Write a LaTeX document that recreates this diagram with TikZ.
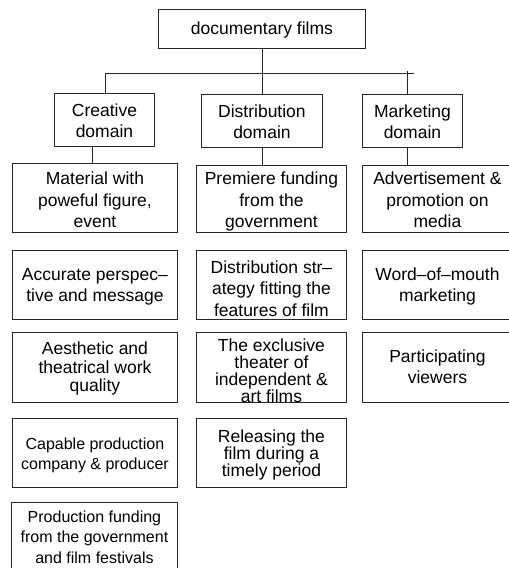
\documentclass[tikz,border=0pt]{standalone}
\usepackage{fontspec}
\setmainfont{Liberation Sans}
\newcommand\boxtext[2][0pt]{\raisebox{#1}[\height][\depth]{\begin{tabular}{@{}c@{}}#2\end{tabular}}}
\begin{document}
\begin{tikzpicture}[x=1pt,y=-1pt,
  box/.style={draw=black!85,line width=0.9pt,inner sep=0pt,anchor=north west,
    font=\fontsize{17.5}{21.5}\selectfont},
  cw/.style={minimum width=165pt},
  dw/.style={minimum width=150pt},
  mw/.style={minimum width=150pt},
  rh/.style={minimum height=69pt},
  link/.style={draw=black!85,line width=0.9pt}]
\useasboundingbox (0,0) rectangle (509,568);
\clip (0,0) rectangle (509,568);
% top
\node[box,minimum width=207pt,minimum height=39pt] (top) at (158,9) {\boxtext[-1pt]{documentary films}};
% domains
\node[box,minimum width=100pt,minimum height=53pt,font=\fontsize{17.5}{21}\selectfont] (crea) at (54,93) {\boxtext[-2.5pt]{Creative\\domain}};
\node[box,minimum width=121pt,minimum height=53pt,font=\fontsize{17.5}{21}\selectfont] (dist) at (201,94) {\boxtext[-2.5pt]{Distribution\\domain}};
\node[box,minimum width=100pt,minimum height=53pt,font=\fontsize{17.5}{21}\selectfont] (mark) at (362,94) {\boxtext[-2.5pt]{Marketing\\domain}};
% creative column
\node[box,cw,rh] (c1) at (12,163) {\boxtext[-4pt]{Material with\\poweful figure,\\event}};
\node[box,cw,rh] (c2) at (12,250) {\boxtext[-1.7pt]{Accurate perspec–\\tive and message}};
\node[box,cw,minimum height=70pt,font=\fontsize{17.5}{18.5}\selectfont] (c3) at (12,332) {\boxtext[-2pt]{Aesthetic and\\theatrical work\\quality}};
\node[box,cw,rh,font=\fontsize{16}{20}\selectfont] (c4) at (12,418) {\boxtext[-3pt]{Capable production\\company \& producer}};
\node[box,minimum width=166pt,minimum height=70pt,font=\fontsize{16}{20.5}\selectfont] (c5) at (11,502) {\boxtext[-1pt]{Production funding\\from the government\\and film festivals}};
% distribution column
\node[box,dw,minimum height=67pt] (d1) at (196,165) {\boxtext[-3.2pt]{Premiere funding\\from the\\government}};
\node[box,dw,rh,font=\fontsize{17.5}{21.7}\selectfont] (d2) at (196,250) {\boxtext[-5.7pt]{Distribution str–\\ategy fitting the\\features of film}};
\node[box,dw,minimum height=70pt,font=\fontsize{17.5}{14.3}\selectfont] (d3) at (196,332) {\boxtext[-5.3pt]{The exclusive\\theater of\\independent \&\\art films}};
\node[box,dw,rh,font=\fontsize{17.5}{14.7}\selectfont] (d4) at (196,418) {\boxtext[-2pt]{Releasing the\\film during a\\timely period}};
% marketing column
\node[box,mw,minimum height=67pt] (m1) at (362,165) {\boxtext[-3.2pt]{Advertisement \&\\promotion on\\media}};
\node[box,mw,rh] (m2) at (362,250) {\boxtext[-1.7pt]{Word–of–mouth\\marketing}};
\node[box,mw,minimum height=70pt,font=\fontsize{17.5}{21}\selectfont] (m3) at (362,332) {\boxtext[-1pt]{Participating\\viewers}};
% connectors
\coordinate (hl) at (105,73);
\coordinate (hr) at (414,73);
\coordinate (ms) at (407,71);
\coordinate (cs) at (92,0);
\draw[link] (top.south) -- (dist.north);
\draw[link] (hl) -- (hr);
\draw[link] (hl) -- (hl |- crea.north);
\draw[link] (ms) -- (ms |- mark.north);
\draw[link] (cs |- crea.south) -- (cs |- c1.north);
\draw[link] (dist.south) -- (dist.south |- d1.north);
\draw[link] (ms |- mark.south) -- (ms |- m1.north);
\end{tikzpicture}
\end{document}
